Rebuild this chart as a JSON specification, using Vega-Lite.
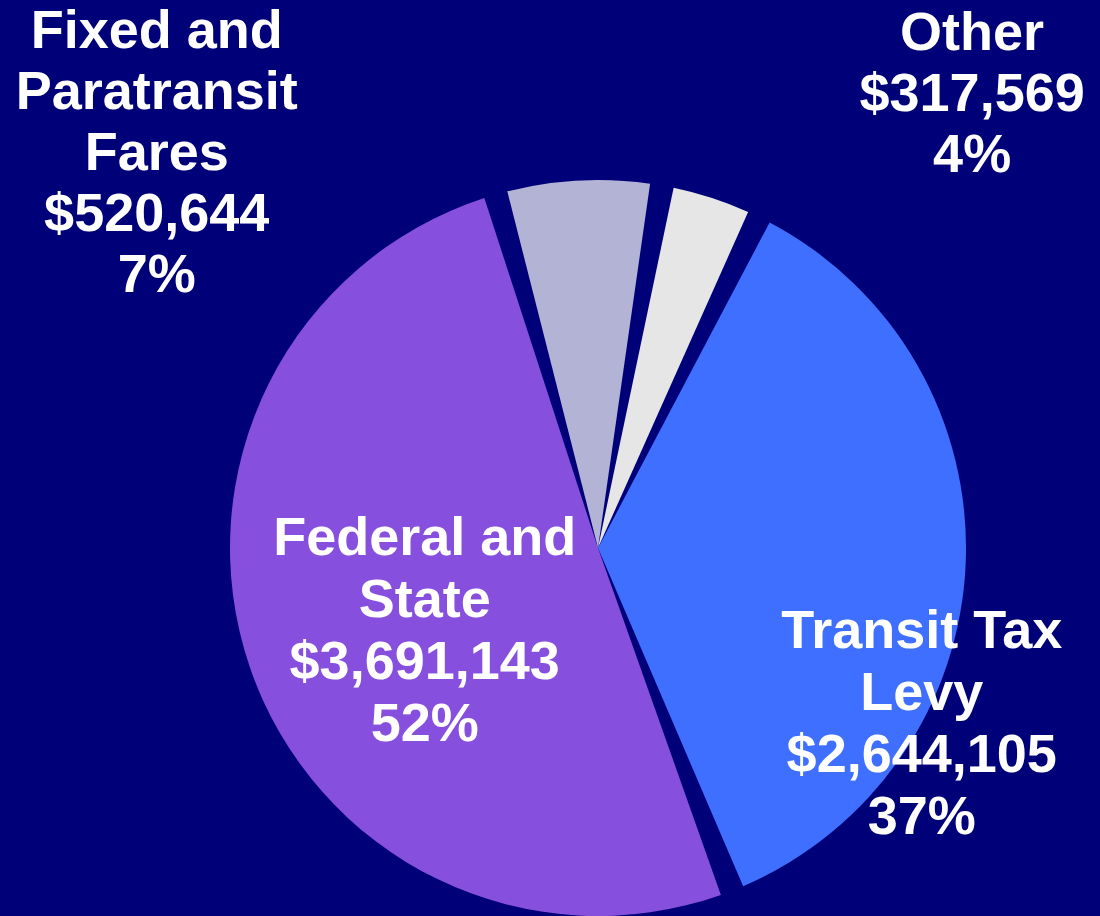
{
  "$schema": "https://vega.github.io/schema/vega-lite/v6.json",
  "width": 1004,
  "height": 736,
  "autosize": {"type": "none"},
  "padding": {"left": 96, "top": 180, "right": 0, "bottom": 0},
  "background": "#000078",
  "config": {"view": {"stroke": null}},
  "data": {
    "values": [
      {"source": "Other", "amount": 317569, "seq": 1, "label": "Other\n$317,569\n4%"},
      {"source": "Transit Tax Levy", "amount": 2644105, "seq": 2, "label": "Transit Tax\nLevy\n$2,644,105\n37%"},
      {"source": "Federal and State", "amount": 3691143, "seq": 3, "label": "Federal and\nState\n$3,691,143\n52%"},
      {"source": "Fixed and Paratransit Fares", "amount": 520644, "seq": 4, "label": "Fixed and\nParatransit\nFares\n$520,644\n7%"}
    ]
  },
  "encoding": {
    "theta": {"field": "amount", "type": "quantitative", "stack": true, "scale": {"range": [0.1745, 6.4577]}},
    "order": {"field": "seq", "type": "quantitative"}
  },
  "layer": [
    {
      "mark": {"type": "arc", "outerRadius": 368, "padAngle": 0.065},
      "encoding": {
        "color": {
          "field": "source",
          "type": "nominal",
          "scale": {
            "domain": ["Other", "Transit Tax Levy", "Federal and State", "Fixed and Paratransit Fares"],
            "range": ["#e6e6e6", "#3f6fff", "#874fdd", "#b3b3d6"]
          },
          "legend": null
        }
      }
    },
    {
      "mark": {"type": "text", "radius": 183, "dy": -68, "font": "Liberation Sans", "fontWeight": "bold", "fontSize": 54, "lineHeight": 62, "lineBreak": "\n", "color": "white", "align": "center", "baseline": "middle"},
      "encoding": {"text": {"condition": {"test": "datum.source === 'Federal and State'", "field": "label"}, "value": ""}}
    },
    {
      "mark": {"type": "text", "radius": 324, "dy": 71, "font": "Liberation Sans", "fontWeight": "bold", "fontSize": 54, "lineHeight": 62, "lineBreak": "\n", "color": "white", "align": "center", "baseline": "middle"},
      "encoding": {"text": {"condition": {"test": "datum.source === 'Transit Tax Levy'", "field": "label"}, "value": ""}}
    },
    {
      "mark": {"type": "text", "radius": 398, "dx": -420, "dy": -119, "font": "Liberation Sans", "fontWeight": "bold", "fontSize": 54, "lineHeight": 61, "lineBreak": "\n", "color": "white", "align": "center", "baseline": "middle"},
      "encoding": {"text": {"condition": {"test": "datum.source === 'Fixed and Paratransit Fares'", "field": "label"}, "value": ""}}
    },
    {
      "mark": {"type": "text", "radius": 477, "dx": 227, "dy": -60, "font": "Liberation Sans", "fontWeight": "bold", "fontSize": 54, "lineHeight": 61, "lineBreak": "\n", "color": "white", "align": "center", "baseline": "middle"},
      "encoding": {"text": {"condition": {"test": "datum.source === 'Other'", "field": "label"}, "value": ""}}
    }
  ]
}
